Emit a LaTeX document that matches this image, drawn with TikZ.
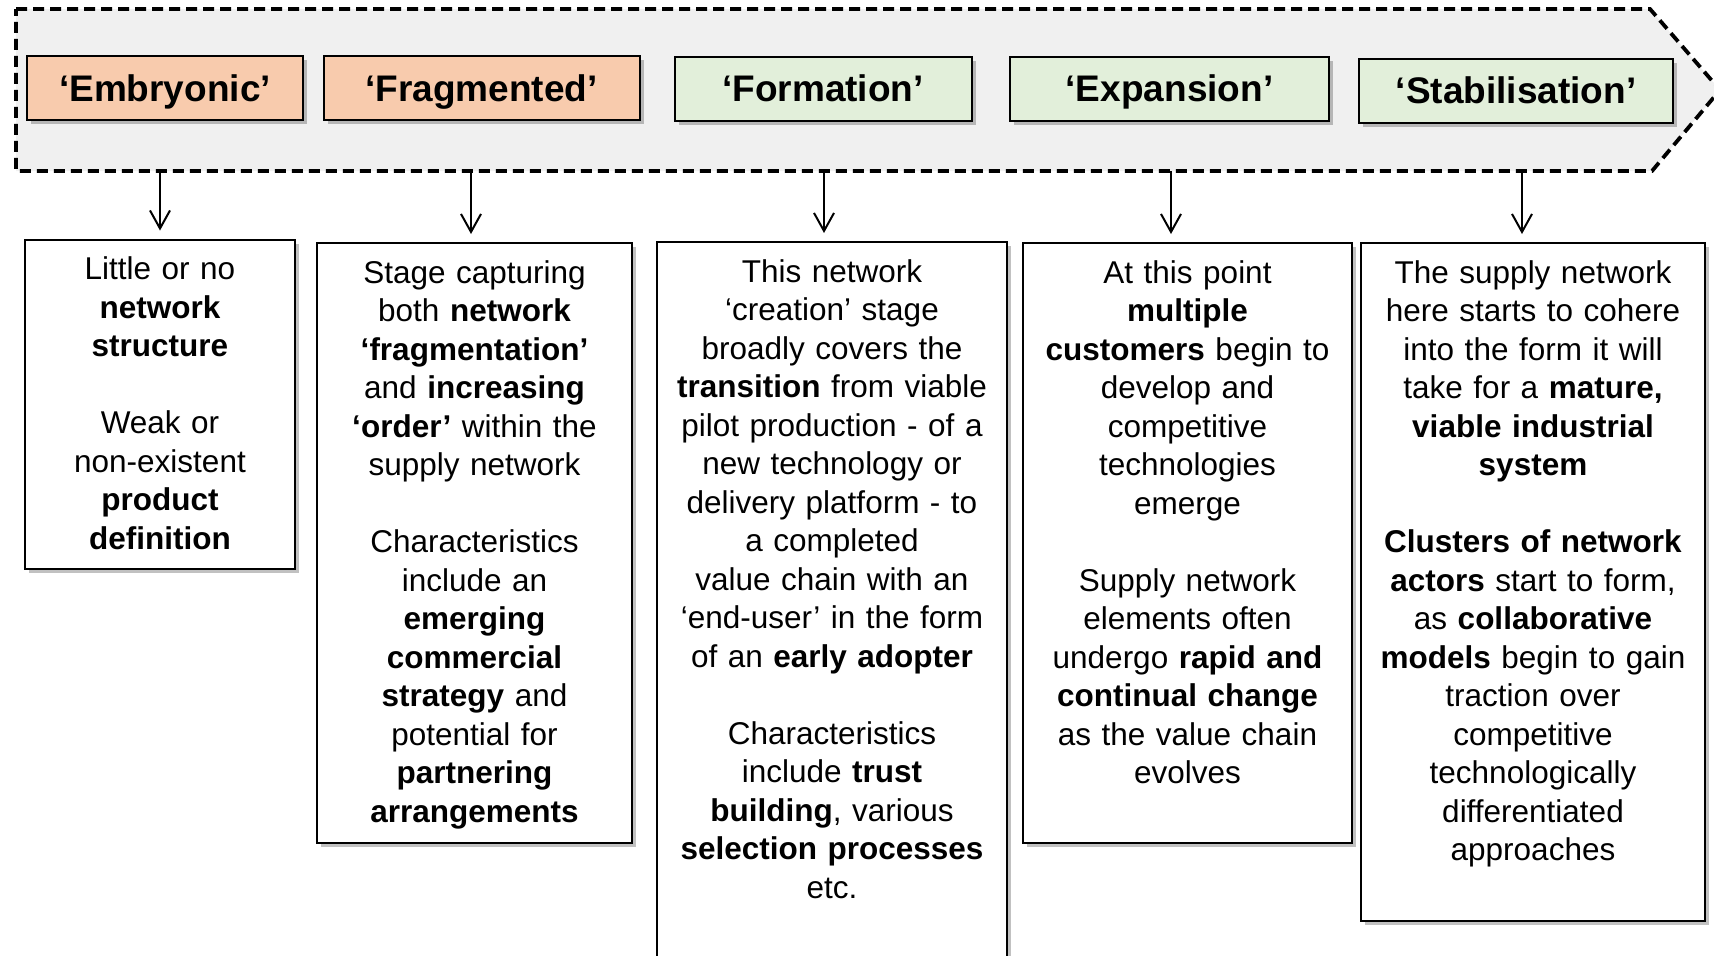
\documentclass[tikz,border=0pt]{standalone}
\usepackage{fontspec}
\setmainfont{Liberation Sans}
\usetikzlibrary{positioning,shadows,arrows.meta}
\definecolor{peach}{HTML}{F8CBAD}
\definecolor{palegreen}{HTML}{E2EFDA}
\definecolor{bandgray}{HTML}{F0F0F0}

\begin{document}
\begin{tikzpicture}[x=1pt,y=-1pt,
  band/.style={draw,fill=bandgray,line width=3.8pt,dash pattern=on 11pt off 6pt,line join=miter},
  stage/.style={draw,line width=2pt,inner sep=0pt,minimum height=64pt,text height=26.5pt,text depth=0pt,
    font=\fontsize{37}{44}\selectfont\bfseries,
    drop shadow={shadow xshift=4pt,shadow yshift=-4pt,fill=black!70,opacity=.35}},
  card/.style={draw,line width=2pt,fill=white,inner sep=0pt,
    drop shadow={shadow xshift=4pt,shadow yshift=-4pt,fill=black!70,opacity=.35}},
  cardtext/.style={inner sep=0pt,align=center,text width=345pt,
    font=\fontsize{31.5}{38.5}\selectfont},
  link/.style={-{Straight Barb[length=18pt,width=20pt]},line width=2pt}]
\useasboundingbox (0,0) rectangle (1714,956);

% stage band
\draw[band] (16,9) -- (1650,9) -- (1720,90) -- (1652,171) -- (16,171) -- cycle;
\node[stage,fill=peach,minimum width=276pt] (s1) at (165,88) {‘Embryonic’};
\node[stage,fill=peach,minimum width=316pt] (s2) at (481.5,88) {‘Fragmented’};
\node[stage,fill=palegreen,minimum width=297pt] (s3) at (823,88.5) {‘Formation’};
\node[stage,fill=palegreen,minimum width=319pt] (s4) at (1169.5,88.5) {‘Expansion’};
\node[stage,fill=palegreen,minimum width=314pt] (s5) at (1516,90.5) {‘Stabilisation’};

% description boxes
\node[card,minimum width=270pt,minimum height=329pt] (b1) at (160,404) {};
\node[card,minimum width=315pt,minimum height=600pt] (b2) at (474.5,543) {};
\node[card,minimum width=350pt,minimum height=733pt] (b3) at (832,608.5) {};
\node[card,minimum width=329pt,minimum height=600pt] (b4) at (1187.5,543) {};
\node[card,minimum width=344pt,minimum height=678pt] (b5) at (1533,582) {};

\node[cardtext,below=18pt of b1.north] (c1) {Little or no\\ \textbf{network}\\ \textbf{structure}\\[38.5pt]
  Weak or\\ non-existent\\ \textbf{product}\\ \textbf{definition}};
\node[cardtext,below=18pt of b2.north] (c2) {Stage capturing\\ both \textbf{network}\\ \textbf{‘fragmentation’}\\
  and \textbf{increasing}\\ \textbf{‘order’} within the\\ supply network\\[38.5pt]
  Characteristics\\ include an\\ \textbf{emerging}\\ \textbf{commercial}\\ \textbf{strategy} and\\
  potential for\\ \textbf{partnering}\\ \textbf{arrangements}};
\node[cardtext,below=18pt of b3.north] (c3) {This network\\ ‘creation’ stage\\ broadly covers the\\
  \textbf{transition} from viable\\ pilot production - of a\\ new technology or\\ delivery platform - to\\
  a completed\\ value chain with an\\ ‘end-user’ in the form\\ of an \textbf{early adopter}\\[38.5pt]
  Characteristics\\ include \textbf{trust}\\ \textbf{building}, various\\ \textbf{selection processes}\\ etc.};
\node[cardtext,below=18pt of b4.north] (c4) {At this point\\ \textbf{multiple}\\ \textbf{customers} begin to\\
  develop and\\ competitive\\ technologies\\ emerge\\[38.5pt]
  Supply network\\ elements often\\ undergo \textbf{rapid and}\\ \textbf{continual change}\\
  as the value chain\\ evolves};
\node[cardtext,below=18pt of b5.north] (c5) {The supply network\\ here starts to cohere\\ into the form it will\\
  take for a \textbf{mature,}\\ \textbf{viable industrial}\\ \textbf{system}\\[38.5pt]
  \textbf{Clusters of network}\\ \textbf{actors} start to form,\\ as \textbf{collaborative}\\
  \textbf{models} begin to gain\\ traction over\\ competitive\\ technologically\\ differentiated\\ approaches};

% arrows from band to boxes
\coordinate (t1) at (160,171);
\coordinate (t2) at (471,171);
\coordinate (t3) at (824,171);
\coordinate (t4) at (1171,171);
\coordinate (t5) at (1522,171);
\draw[link] (t1) -- ([yshift=8pt]t1 |- b1.north);
\draw[link] (t2) -- ([yshift=8pt]t2 |- b2.north);
\draw[link] (t3) -- ([yshift=8pt]t3 |- b3.north);
\draw[link] (t4) -- ([yshift=8pt]t4 |- b4.north);
\draw[link] (t5) -- ([yshift=8pt]t5 |- b5.north);
\end{tikzpicture}
\end{document}
